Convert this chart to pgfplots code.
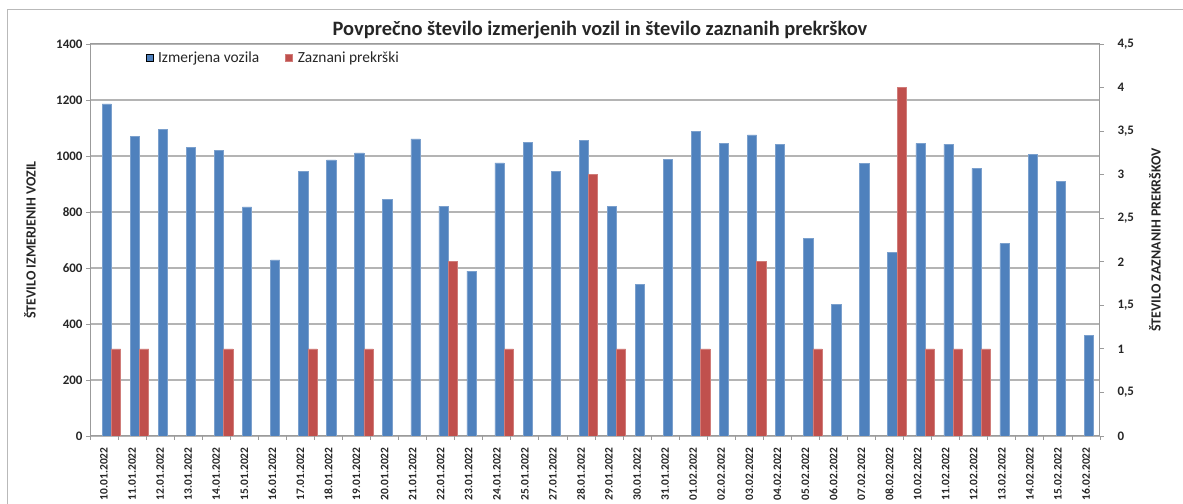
\documentclass[border=0pt]{standalone}
\usepackage{pgfplots}
\pgfplotsset{compat=1.18}
\usepackage{fontspec}
\setmainfont{Carlito}
\definecolor{xblue}{RGB}{79,129,189}
\definecolor{xred}{RGB}{192,80,77}
\definecolor{gridgray}{RGB}{180,180,180}
\definecolor{axgray}{RGB}{155,155,155}
\begin{document}
\begin{tikzpicture}[x=1bp,y=1bp]
\useasboundingbox (0,0) rectangle (1183,504);
\draw[axgray!70, line width=1bp] (7,0) -- (7,494) -- (1183,494);
\node[font=\bfseries\fontsize{20.5}{22}\selectfont, text=black!85] at (600,474) {Povprečno število izmerjenih vozil in število zaznanih prekrškov};
\begin{axis}[
  at={(90bp,68bp)}, anchor=south west, scale only axis,
  width=1010bp, height=392bp,
  xmin=-0.5, xmax=35.5, ymin=0, ymax=1400,
  axis line style={axgray, line width=1bp},
  ytick={0,200,...,1400},
  ymajorgrids, grid style={gridgray, line width=1.2bp},
  ytick pos=left, xtick pos=bottom,
  tick align=outside, major tick length=4bp,
  tick style={axgray, line width=0.8bp},
  xtick={-0.5,0.5,...,35.5}, xticklabels={},
  extra x ticks={0,1,...,35},
  extra x tick labels={10.01.2022,11.01.2022,12.01.2022,13.01.2022,14.01.2022,15.01.2022,16.01.2022,17.01.2022,18.01.2022,19.01.2022,20.01.2022,21.01.2022,22.01.2022,23.01.2022,24.01.2022,25.01.2022,27.01.2022,28.01.2022,29.01.2022,30.01.2022,31.01.2022,01.02.2022,02.02.2022,03.02.2022,04.02.2022,05.02.2022,06.02.2022,07.02.2022,08.02.2022,10.02.2022,11.02.2022,12.02.2022,13.02.2022,14.02.2022,15.02.2022,16.02.2022},
  extra x tick style={major tick length=0pt, tick style={draw=none},
     xticklabel style={rotate=90, anchor=east, font=\bfseries\fontsize{11.5}{12}\selectfont, text=black!85}},
  xticklabel shift=8bp,
  yticklabel style={font=\bfseries\fontsize{13}{14}\selectfont, text=black!85},
  /pgf/number format/assume math mode=true,
  /pgf/number format/1000 sep={},
  ylabel={ŠTEVILO IZMERJENIH VOZIL},
  ylabel style={at={(axis description cs:-0.0594,0.5)}, anchor=center, rotate=0, font=\bfseries\fontsize{14}{15}\selectfont, text=black!85},
]
\addplot[ybar, bar width=0.33, bar shift=0.1, fill=xblue, draw=xblue!75!white, line width=0.6bp] coordinates {
(0,1186) (1,1071) (2,1096) (3,1032) (4,1021) (5,818) (6,629) (7,946) (8,986) (9,1011)
(10,846) (11,1061) (12,821) (13,589) (14,975) (15,1048) (16,945) (17,1057) (18,820) (19,541)
(20,989) (21,1089) (22,1044) (23,1075) (24,1040) (25,707) (26,471) (27,973) (28,656) (29,1045)
(30,1042) (31,956) (32,687) (33,1007) (34,908) (35,360)};
\end{axis}
\begin{axis}[
  at={(90bp,68bp)}, anchor=south west, scale only axis,
  width=1010bp, height=392bp,
  xmin=-0.5, xmax=35.5, ymin=0, ymax=4.5,
  axis x line=none, axis y line*=right,
  axis line style={axgray, line width=1bp},
  ytick={0,0.5,...,4.5},
  tick align=outside, major tick length=4bp,
  tick style={axgray, line width=0.8bp},
  yticklabel style={font=\bfseries\fontsize{13}{14}\selectfont, text=black!85, xshift=10bp},
  /pgf/number format/assume math mode=true,
  /pgf/number format/use comma,
  /pgf/number format/1000 sep={},
  ylabel={ŠTEVILO ZAZNANIH PREKRŠKOV},
  ylabel style={at={(axis description cs:1.0545,0.5)}, anchor=center, rotate=0, font=\bfseries\fontsize{14}{15}\selectfont, text=black!85},
  legend style={at={(axis description cs:0.052,0.964)}, anchor=west, draw=none, fill=none,
     font=\fontsize{15.5}{17}\selectfont, text=black!85, legend columns=2,
     /tikz/every even column/.append style={column sep=24bp}},
  legend image code/.code={\fill[#1] (0bp,-3.5bp) rectangle (7bp,3.5bp);},
]
\addlegendimage{fill=xblue}
\addlegendentry{\hspace{3bp}Izmerjena vozila}
\addplot[ybar, bar width=0.33, bar shift=0.43, fill=xred, draw=xred!75!white, line width=0.6bp] coordinates {
(0,1) (1,1) (4,1) (7,1) (9,1) (12,2) (14,1) (17,3) (18,1) (21,1) (23,2) (25,1) (28,4) (29,1) (30,1) (31,1)};
\addlegendentry{\hspace{3bp}Zaznani prekrški}
\end{axis}
\end{tikzpicture}
\end{document}
